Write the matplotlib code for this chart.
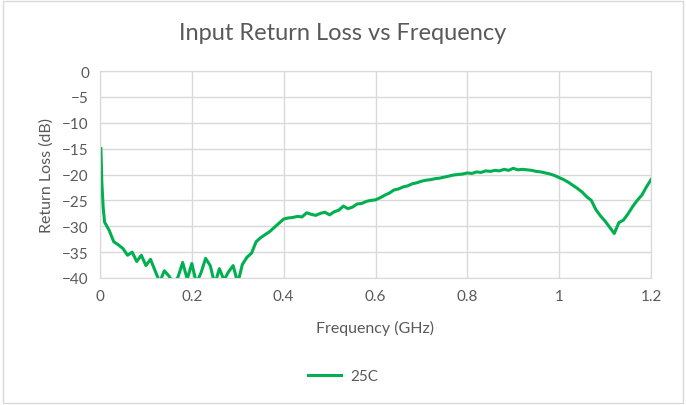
import matplotlib
matplotlib.use("Agg")
import matplotlib.pyplot as plt
from matplotlib.patches import Rectangle

plt.rcParams['font.family'] = ['Lato', 'DejaVu Sans']

# Frequency (GHz) and return loss (dB)
freq_ghz = [0.002, 0.004, 0.007,
            0.01, 0.02, 0.03, 0.04, 0.05, 0.06, 0.07, 0.08, 0.09, 0.10,
            0.11, 0.12, 0.13, 0.14, 0.15, 0.16, 0.17, 0.18, 0.19, 0.20,
            0.21, 0.22, 0.23, 0.24, 0.25, 0.26, 0.27, 0.28, 0.29, 0.30,
            0.31, 0.32, 0.33, 0.34, 0.35, 0.36, 0.37, 0.38, 0.39, 0.40,
            0.41, 0.42, 0.43, 0.44, 0.45, 0.46, 0.47, 0.48, 0.49, 0.50,
            0.51, 0.52, 0.53, 0.54, 0.55, 0.56, 0.57, 0.58, 0.59, 0.60,
            0.61, 0.62, 0.63, 0.64, 0.65, 0.66, 0.67, 0.68, 0.69, 0.70,
            0.71, 0.72, 0.73, 0.74, 0.75, 0.76, 0.77, 0.78, 0.79, 0.80,
            0.81, 0.82, 0.83, 0.84, 0.85, 0.86, 0.87, 0.88, 0.89, 0.90,
            0.91, 0.92, 0.93, 0.94, 0.95, 0.96, 0.97, 0.98, 0.99, 1.00,
            1.01, 1.02, 1.03, 1.04, 1.05, 1.06, 1.07, 1.08, 1.09, 1.10,
            1.11, 1.12, 1.13, 1.14, 1.15, 1.16, 1.17, 1.18, 1.19, 1.20]

loss_25c = [-15.0, -21.5, -26.5,
            -29.2, -30.8, -33.0, -33.6, -34.3, -35.6, -35.0, -36.8, -35.6, -37.6,
            -36.4, -38.6, -40.8, -38.6, -39.6, -41.0, -39.8, -37.0, -40.2, -37.2,
            -41.0, -39.0, -36.2, -37.6, -41.2, -38.2, -40.4, -38.8, -37.6, -41.0,
            -37.4, -36.0, -35.2, -33.0, -32.2, -31.6, -31.0, -30.2, -29.4, -28.6,
            -28.4, -28.3, -28.1, -28.2, -27.4, -27.7, -27.9, -27.5, -27.3, -27.8,
            -27.2, -26.9, -26.1, -26.6, -26.3, -25.7, -25.6, -25.2, -25.0, -24.9,
            -24.5, -24.0, -23.6, -23.0, -22.8, -22.4, -22.2, -21.8, -21.6, -21.3,
            -21.1, -21.0, -20.8, -20.7, -20.5, -20.3, -20.1, -20.0, -19.9, -19.7,
            -19.8, -19.5, -19.6, -19.3, -19.4, -19.2, -19.3, -19.0, -19.2, -18.8,
            -19.1, -19.0, -19.1, -19.2, -19.4, -19.5, -19.7, -19.9, -20.2, -20.6,
            -21.0, -21.5, -22.1, -22.7, -23.4, -24.3, -25.0, -26.8, -28.0, -29.0,
            -30.2, -31.4, -29.3, -28.8, -27.6, -26.2, -25.0, -24.0, -22.4, -21.0]

x_ticks = [0, 0.2, 0.4, 0.6, 0.8, 1, 1.2]
y_ticks = [0, -5, -10, -15, -20, -25, -30, -35, -40]

txt = '#595959'
grid = '#D9D9D9'

fig = plt.figure(figsize=(6.86, 4.06), dpi=100)
fig.patches.append(Rectangle((0.004, 0.005), 0.992, 0.99, transform=fig.transFigure,
                             fill=False, edgecolor=grid, linewidth=1))

ax = fig.add_axes([100 / 686, 1 - 279 / 406, 551 / 686, 207 / 406])
ax.plot(freq_ghz, loss_25c, color='#00B050', linewidth=2.2, label='25C')

ax.set_xlim(0, 1.2)
ax.set_ylim(-40, 0)
ax.set_xticks(x_ticks)
ax.set_xticklabels([str(t) for t in x_ticks])
ax.set_yticks(y_ticks)
ax.grid(True, color=grid, linewidth=1)
ax.set_axisbelow(True)
for s in ax.spines.values():
    s.set_color(grid)
ax.tick_params(length=0, colors=txt, labelsize=11, pad=8)

fig.text(0.5, 1 - 33 / 406, 'Input Return Loss vs Frequency', color=txt,
         fontsize=17, ha='center', va='center')
ax.set_xlabel('Frequency (GHz)', color=txt, fontsize=11.5, labelpad=12)
ax.set_ylabel('Return Loss (dB)', color=txt, fontsize=11.5, labelpad=6)

leg = fig.legend(loc='center', bbox_to_anchor=(0.5, 1 - 377 / 406), frameon=False,
                 fontsize=11, handlelength=2.2, handletextpad=0.6)
for t in leg.get_texts():
    t.set_color(txt)

fig.savefig('out.png', dpi=100)
